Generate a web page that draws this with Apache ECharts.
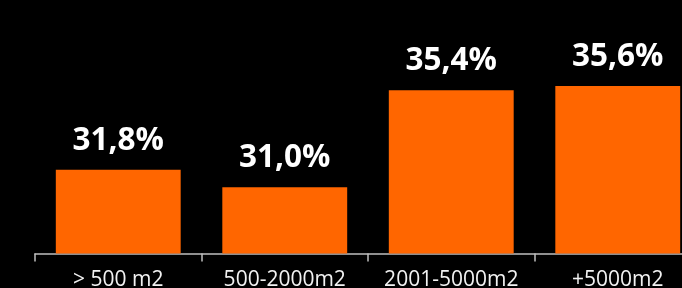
<!DOCTYPE html>
<html><head><meta charset="utf-8">
<script src="https://cdn.jsdelivr.net/npm/echarts@6/dist/echarts.min.js"></script>
<style>html,body{margin:0;padding:0;background:#000;overflow:hidden;width:682px;height:288px;}#c{width:720px;height:288px;}</style>
</head><body><div id="c"></div>
<script>
const categories = ['> 500 m2', '500-2000m2', '2001-5000m2', '+5000m2'];
const values = [31.8, 31.0, 35.4, 35.6];
const yMin = 28, yMax = 38;

const chart = echarts.init(document.getElementById('c'));
chart.setOption({
  backgroundColor: '#000',
  animation: false,
  grid: { left: 35, top: 33, width: 666, height: 220.5, containLabel: false, outerBoundsMode: 'none' },
  xAxis: {
    type: 'category', data: categories,
    axisLine: { lineStyle: { color: '#bfbfbf', width: 1.5 } },
    axisTick: { show: true, interval: 0, length: 8, lineStyle: { color: '#bfbfbf', width: 1.5 } },
    axisLabel: { interval: 0, color: '#f2f2f2', fontFamily: 'Open Sans', fontSize: 21, margin: 16 }
  },
  yAxis: { type: 'value', min: yMin, max: yMax, show: false, splitLine: { show: false } },
  series: [{
    type: 'bar', data: values, barWidth: '75%',
    itemStyle: { color: '#ff6600' },
    label: {
      show: true, position: 'top', distance: 13,
      color: '#fff', fontFamily: 'Open Sans', fontWeight: 'bold', fontSize: 31.5,
      formatter: p => p.value.toFixed(1).replace('.', ',') + '%'
    }
  }]
});
</script></body></html>
